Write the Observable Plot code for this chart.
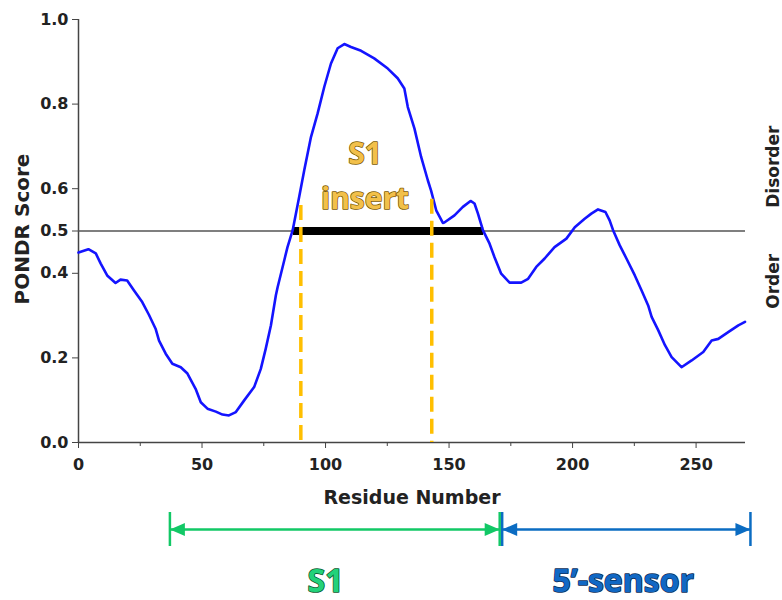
<!DOCTYPE html>
<html>
<head>
<meta charset="utf-8">
<script src="https://cdn.jsdelivr.net/npm/d3@7"></script>
<script src="https://cdn.jsdelivr.net/npm/@observablehq/plot@0.6"></script>
<style>
  body { margin: 0; background: #fff; }
  #chart { width: 782px; height: 600px; }
</style>
</head>
<body>
<div id="chart"></div>
<script>
// PONDR disorder prediction along the protein sequence
const residue = [
  0, 4, 7, 9, 11.6, 15, 17, 19.7, 22.4, 25.8, 28.5, 31.2, 32.6, 35.3, 38, 41.4, 44.1,
  47.4, 49.5, 52.2, 55.6, 58.3, 60.9, 63.7, 67, 71.1, 73.8, 75.8, 77.9, 79.9, 80.6,
  83.3, 84.6, 86.7, 89.3, 91.4, 94.1, 96.8, 99.5, 102.2, 104.9, 107.6, 110.3, 114.4,
  119.7, 125.2, 129.2, 131.9, 133.3, 136, 138.7, 141.4, 142.7, 144.8, 147.5, 148.1,
  152.2, 155.6, 158.7, 160.3, 161.7, 163.7, 166.4, 168.4, 171.1, 174.5, 179.2, 182,
  185.3, 188.7, 192.7, 197.5, 200.9, 204.9, 207.6, 210.3, 213.3, 215, 216.4, 219.1,
  221.8, 225.2, 227.9, 230.6, 232, 234.7, 237.4, 240.1, 244.1, 248.2, 252.9, 256.3,
  259, 263, 267.1, 269.8
];
const score = [
  0.449, 0.457, 0.447, 0.423, 0.395, 0.377, 0.385, 0.383, 0.360, 0.332, 0.302, 0.269, 0.241, 0.210, 0.186, 0.178, 0.163,
  0.127, 0.095, 0.080, 0.073, 0.066, 0.064, 0.072, 0.099, 0.131, 0.174, 0.222, 0.277, 0.348, 0.367,
  0.431, 0.462, 0.502, 0.580, 0.644, 0.722, 0.778, 0.841, 0.896, 0.932, 0.942, 0.935, 0.926,
  0.908, 0.884, 0.861, 0.837, 0.793, 0.742, 0.675, 0.620, 0.596, 0.549, 0.519, 0.520,
  0.537, 0.557, 0.571, 0.565, 0.541, 0.502, 0.470, 0.438, 0.399, 0.378, 0.378, 0.387,
  0.415, 0.435, 0.462, 0.482, 0.509, 0.529, 0.541, 0.551, 0.545, 0.525, 0.502, 0.466,
  0.435, 0.395, 0.360, 0.324, 0.297, 0.265, 0.230, 0.202, 0.178, 0.194, 0.214, 0.241,
  0.245, 0.261, 0.277, 0.285
];

// axis ticks
const xTicks = [0, 50, 100, 150, 200, 250];
const xMinorTicks = [25, 75, 125, 175, 225];
const yTicks = [0, 0.2, 0.4, 0.5, 0.6, 0.8, 1.0];

// order/disorder threshold and the disordered stretch above it
const threshold = [0.5];
const disorderStart = [87];
const disorderEnd = [164];

// boundaries of the S1 insert
const insertBoundary = [90, 143];
const insertBoundaryTop = [0.56, 0.575];

// protein domains under the axis
const domainNames = ["S1", "5’-sensor"];
const domainStart = [37, 171.5];
const domainEnd = [170.5, 272];

// ---- layout ----
const W = 782, H = 600;
const margin = {top: 19, right: 37, bottom: 158, left: 78};
const innerH = H - margin.top - margin.bottom;
const below = px => -px / innerH; // score value lying px pixels under the x axis

const profile = residue.map((r, i) => ({residue: r, score: score[i]}));
const disordered = disorderStart.map((s, i) => ({start: s, end: disorderEnd[i], score: threshold[0]}));
const boundaries = insertBoundary.map((x, i) => ({x, top: insertBoundaryTop[i]}));
const domains = domainNames.map((name, i) => ({name, start: domainStart[i], end: domainEnd[i]}));
const domainEnds = domains.flatMap(d => [
  {name: d.name, x: d.start, rot: 180},
  {name: d.name, x: d.end, rot: 0}
]);
const domainLabelAt = [100, 220.5];
const domainFill = ["#22d27a", "#1168c4"];
const domainOutline = ["#0d5a30", "#0a2d58"];

// filled arrowhead, tip at the anchor point, pointing right
const arrowhead = {
  draw(context) {
    context.moveTo(0, 0);
    context.lineTo(-15, -6.5);
    context.lineTo(-15, 6.5);
    context.closePath();
  }
};

const calibri = "'Open Sans', 'Lato', sans-serif";

const chart = Plot.plot({
  width: W,
  height: H,
  marginTop: margin.top,
  marginRight: margin.right,
  marginBottom: margin.bottom,
  marginLeft: margin.left,
  style: {
    fontFamily: "'DejaVu Sans', sans-serif",
    fontSize: "16px",
    fontWeight: "bold",
    color: "#222",
    background: "#fff",
    overflow: "visible"
  },
  x: {domain: [0, 270]},
  y: {domain: [0, 1]},
  color: {domain: domainNames, range: ["#12c866", "#0b6cc2"]},
  marks: [
    Plot.axisX({ticks: xTicks, tickSize: 6, tickPadding: 10, label: null, stroke: "#444"}),
    Plot.axisX({ticks: xMinorTicks, tickSize: 4, tickFormat: () => "", label: null, stroke: "#444"}),
    Plot.axisY({ticks: yTicks, tickSize: 6, tickPadding: 4, tickFormat: d3.format(".1f"), label: null, stroke: "#444"}),
    Plot.ruleX([0], {stroke: "#444", strokeWidth: 1.5}),
    Plot.ruleY([0], {stroke: "#444", strokeWidth: 1.5}),
    Plot.ruleY(threshold, {stroke: "#555", strokeWidth: 1.3}),
    Plot.ruleY(disordered, {y: "score", x1: "start", x2: "end", stroke: "#000", strokeWidth: 8}),
    Plot.line(profile, {x: "residue", y: "score", stroke: "#1414ff", strokeWidth: 2.6}),
    Plot.ruleX(boundaries, {x: "x", y1: "top", y2: 0, stroke: "#ffbf00", strokeWidth: 3.5, strokeDasharray: "15,7"}),
    Plot.text(["S1\ninsert"], {
      x: 116, y: 0.639, text: d => d, lineHeight: 1.5,
      fontFamily: calibri, fontSize: 30, fontWeight: "bold",
      fill: "#f2c04a", stroke: "#7a5a00", strokeWidth: 1.5, paintOrder: "stroke"
    }),
    // axis titles
    Plot.text(["Residue Number"], {
      text: d => d, frameAnchor: "bottom", textAnchor: "middle", lineAnchor: "middle",
      dy: 55, fontSize: 19
    }),
    Plot.text(["PONDR Score"], {
      text: d => d, frameAnchor: "left", textAnchor: "middle", lineAnchor: "middle",
      dx: -56, dy: -2, rotate: -90, fontSize: 20
    }),
    Plot.text(["Disorder", "Order"], {
      text: d => d, y: [0.652, 0.381], frameAnchor: "right", textAnchor: "middle", lineAnchor: "middle",
      dx: 28, rotate: -90, fontSize: 17
    }),
    // domain brackets
    Plot.ruleY(domains, {y: below(87), x1: "start", x2: "end", stroke: "name", strokeWidth: 2.5}),
    Plot.ruleX(domainEnds, {x: "x", y1: below(70), y2: below(104), stroke: "name", strokeWidth: 2.5}),
    Plot.dot(domainEnds, {x: "x", y: below(87), symbol: arrowhead, rotate: "rot", fill: "name", stroke: "none"}),
    ...domains.map((d, i) => Plot.text([d], {
      x: domainLabelAt[i], y: below(139), text: "name",
      fontFamily: calibri, fontSize: 32, fontWeight: "bold",
      fill: domainFill[i], stroke: domainOutline[i], strokeWidth: 1.6, paintOrder: "stroke"
    }))
  ]
});

document.getElementById("chart").appendChild(chart);
</script>
</body>
</html>
